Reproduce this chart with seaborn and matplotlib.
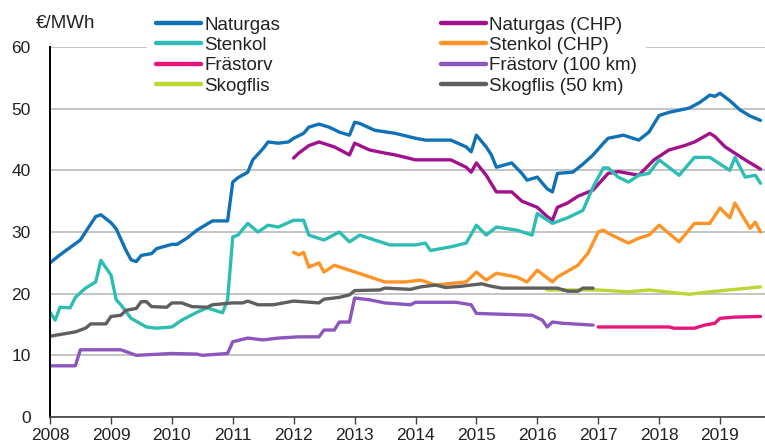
import pandas as pd
import matplotlib.pyplot as plt
import matplotlib.dates as mdates
from matplotlib.lines import Line2D
import seaborn as sns

# monthly prices, €/MWh
naturgas_dates = ["2008-01", "2008-03", "2008-05", "2008-07", "2008-08", "2008-10", "2008-11",
                  "2009-01", "2009-02", "2009-04", "2009-05", "2009-06", "2009-07", "2009-09", "2009-10",
                  "2010-01", "2010-02", "2010-04", "2010-06", "2010-07", "2010-09", "2010-11", "2010-12",
                  "2011-01", "2011-02", "2011-04", "2011-05", "2011-07", "2011-08", "2011-10", "2011-12",
                  "2012-01", "2012-03", "2012-04", "2012-06", "2012-08", "2012-10", "2012-12",
                  "2013-01", "2013-02", "2013-05", "2013-09", "2014-01", "2014-03", "2014-08", "2014-11",
                  "2014-12", "2015-01", "2015-03", "2015-04", "2015-05", "2015-08", "2015-10", "2015-11",
                  "2016-01", "2016-03", "2016-04", "2016-05", "2016-08", "2016-10", "2016-12",
                  "2017-02", "2017-03", "2017-06", "2017-09", "2017-11", "2018-01", "2018-03", "2018-07",
                  "2018-09", "2018-11", "2018-12", "2019-01", "2019-03", "2019-05", "2019-07", "2019-09"]
naturgas = [25.0, 26.3, 27.5, 28.7, 30.0, 32.5, 32.8,
            31.5, 30.5, 27.0, 25.5, 25.2, 26.2, 26.5, 27.3,
            28.0, 28.0, 29.0, 30.3, 30.8, 31.8, 31.8, 31.8,
            38.1, 38.8, 39.7, 41.7, 43.5, 44.6, 44.4, 44.6,
            45.2, 46.0, 47.0, 47.5, 47.0, 46.2, 45.7,
            47.8, 47.6, 46.5, 46.0, 45.2, 44.9, 44.9, 43.8,
            43.0, 45.7, 43.8, 42.5, 40.5, 41.2, 39.5, 38.4,
            38.9, 37.0, 36.5, 39.5, 39.7, 41.0, 42.5,
            44.4, 45.2, 45.7, 44.9, 46.2, 48.9, 49.4, 50.1,
            51.0, 52.2, 52.0, 52.5, 51.3, 49.8, 48.8, 48.1]

naturgas_chp_dates = ["2012-01", "2012-02", "2012-04", "2012-06", "2012-09", "2012-12",
                      "2013-01", "2013-04", "2013-07", "2013-09", "2014-01", "2014-08", "2014-11",
                      "2014-12", "2015-01", "2015-03", "2015-05", "2015-08", "2015-10",
                      "2016-01", "2016-03", "2016-04", "2016-05", "2016-07", "2016-09", "2016-12",
                      "2017-03", "2017-05", "2017-09", "2017-12", "2018-03", "2018-06", "2018-08",
                      "2018-11", "2018-12", "2019-02", "2019-06", "2019-09"]
naturgas_chp = [42.0, 42.8, 44.0, 44.6, 43.8, 42.5,
                44.4, 43.3, 42.8, 42.5, 41.7, 41.7, 40.5,
                39.7, 41.2, 39.2, 36.5, 36.5, 35.0,
                34.0, 32.5, 31.9, 34.0, 34.7, 35.8, 36.8,
                39.5, 39.8, 39.2, 41.7, 43.3, 44.0, 44.6,
                46.0, 45.5, 43.8, 41.7, 40.2]

stenkol_dates = ["2008-01", "2008-02", "2008-03", "2008-05", "2008-06", "2008-08", "2008-10", "2008-11",
                 "2009-01", "2009-02", "2009-03", "2009-05", "2009-08", "2009-10",
                 "2010-01", "2010-03", "2010-06", "2010-08", "2010-11", "2010-12",
                 "2011-01", "2011-02", "2011-04", "2011-06", "2011-08", "2011-10",
                 "2012-01", "2012-03", "2012-04", "2012-07", "2012-10", "2012-12",
                 "2013-02", "2013-05", "2013-08", "2014-01", "2014-03", "2014-04", "2014-08", "2014-11",
                 "2015-01", "2015-03", "2015-05", "2015-09", "2015-12",
                 "2016-01", "2016-04", "2016-07", "2016-10", "2016-12",
                 "2017-02", "2017-03", "2017-05", "2017-07", "2017-09", "2017-11",
                 "2018-01", "2018-05", "2018-08", "2018-11",
                 "2019-03", "2019-04", "2019-06", "2019-08", "2019-09"]
stenkol = [17.0, 15.7, 17.8, 17.7, 19.4, 20.9, 21.9, 25.4,
           23.0, 19.0, 18.2, 16.0, 14.6, 14.4,
           14.6, 15.7, 17.0, 17.7, 16.9, 19.0,
           29.2, 29.5, 31.4, 30.0, 31.1, 30.8,
           31.9, 31.9, 29.5, 28.7, 30.0, 28.4,
           29.5, 28.7, 27.9, 27.9, 28.2, 27.0, 27.6, 28.2,
           31.1, 29.5, 30.8, 30.3, 29.5,
           33.0, 31.4, 32.3, 33.5, 37.3,
           40.4, 40.4, 38.9, 38.1, 39.2, 39.5,
           41.7, 39.2, 42.1, 42.1,
           40.0, 42.1, 38.9, 39.2, 37.9]

stenkol_chp_dates = ["2012-01", "2012-02", "2012-03", "2012-04", "2012-06", "2012-07", "2012-09", "2012-12",
                     "2013-03", "2013-07", "2013-11", "2014-02", "2014-05", "2014-11",
                     "2015-01", "2015-03", "2015-05", "2015-09", "2015-11",
                     "2016-01", "2016-04", "2016-05", "2016-09", "2016-11",
                     "2017-01", "2017-02", "2017-03", "2017-07", "2017-09", "2017-11",
                     "2018-01", "2018-05", "2018-08", "2018-11",
                     "2019-01", "2019-03", "2019-04", "2019-06", "2019-07", "2019-08", "2019-09"]
stenkol_chp = [26.7, 26.3, 26.7, 24.3, 25.0, 23.5, 24.6, 23.8,
               23.0, 21.9, 21.9, 22.2, 21.4, 21.9,
               23.5, 22.2, 23.3, 22.7, 21.9,
               23.8, 21.9, 22.7, 24.6, 26.6,
               30.0, 30.3, 29.8, 28.2, 29.0, 29.5,
               31.1, 28.4, 31.4, 31.4,
               33.9, 32.3, 34.7, 31.9, 30.6, 31.6, 30.0]

frastorv_dates = ["2017-01", "2018-03", "2018-04", "2018-08", "2018-10", "2018-12",
                  "2019-01", "2019-04", "2019-09"]
frastorv = [14.6, 14.6, 14.4, 14.4, 14.9, 15.2, 16.0, 16.2, 16.3]

frastorv_100_dates = ["2008-01", "2008-06", "2008-07", "2009-03", "2009-04", "2009-06",
                      "2010-01", "2010-06", "2010-07", "2010-12", "2011-01", "2011-04", "2011-07", "2011-10",
                      "2012-02", "2012-06", "2012-07", "2012-09", "2012-10", "2012-12",
                      "2013-01", "2013-04", "2013-07", "2013-12", "2014-01", "2014-09", "2014-12",
                      "2015-01", "2015-12", "2016-02", "2016-03", "2016-04", "2016-06", "2016-12"]
frastorv_100 = [8.3, 8.3, 10.9, 10.9, 10.6, 10.0,
                10.3, 10.2, 10.0, 10.3, 12.2, 12.8, 12.5, 12.8,
                13.0, 13.0, 14.1, 14.1, 15.4, 15.4,
                19.3, 19.0, 18.5, 18.2, 18.6, 18.6, 18.2,
                16.8, 16.5, 15.7, 14.6, 15.4, 15.2, 14.9]

skogflis_dates = ["2016-03", "2016-12", "2017-01", "2017-07", "2017-11", "2018-07",
                  "2018-11", "2019-04", "2019-09"]
skogflis = [20.6, 20.6, 20.6, 20.3, 20.6, 19.9, 20.3, 20.7, 21.1]

skogflis_50_dates = ["2008-01", "2008-06", "2008-08", "2008-09", "2008-12",
                     "2009-01", "2009-03", "2009-04", "2009-06", "2009-07", "2009-08", "2009-09", "2009-12",
                     "2010-01", "2010-03", "2010-05", "2010-08", "2010-09",
                     "2011-01", "2011-03", "2011-04", "2011-06", "2011-09", "2011-11",
                     "2012-01", "2012-06", "2012-07", "2012-10", "2012-12",
                     "2013-01", "2013-06", "2013-07", "2013-12",
                     "2014-02", "2014-05", "2014-07", "2014-10",
                     "2015-02", "2015-04", "2015-06", "2016-05", "2016-07", "2016-09", "2016-10", "2016-12"]
skogflis_50 = [13.1, 13.8, 14.4, 15.1, 15.1,
               16.3, 16.5, 17.3, 17.6, 18.7, 18.7, 17.9, 17.8,
               18.5, 18.5, 17.9, 17.8, 18.2,
               18.5, 18.5, 18.8, 18.2, 18.2, 18.5,
               18.8, 18.5, 19.1, 19.4, 19.8,
               20.5, 20.6, 20.9, 20.7,
               21.1, 21.4, 21.0, 21.2,
               21.6, 21.2, 20.9, 20.9, 20.4, 20.4, 20.9, 20.9]

series = [
    ("Naturgas", naturgas_dates, naturgas, "#1071B6"),
    ("Stenkol", stenkol_dates, stenkol, "#2DBDB2"),
    ("Frästorv", frastorv_dates, frastorv, "#E6157B"),
    ("Skogflis", skogflis_dates, skogflis, "#BDD631"),
    ("Naturgas (CHP)", naturgas_chp_dates, naturgas_chp, "#A1118D"),
    ("Stenkol (CHP)", stenkol_chp_dates, stenkol_chp, "#FF9325"),
    ("Frästorv (100 km)", frastorv_100_dates, frastorv_100, "#8D55BE"),
    ("Skogflis (50 km)", skogflis_50_dates, skogflis_50, "#5F5F5F"),
]

frames = []
for name, d, v, c in series:
    frames.append(pd.DataFrame({"Datum": pd.to_datetime(d), "Pris": v, "Bränsle": name}))
df = pd.concat(frames, ignore_index=True)
palette = {name: c for name, d, v, c in series}
draw_order = ["Naturgas", "Naturgas (CHP)", "Stenkol", "Stenkol (CHP)",
              "Frästorv", "Frästorv (100 km)", "Skogflis", "Skogflis (50 km)"]

sns.set_theme(style="white")
plt.rcParams["font.family"] = ["Liberation Sans", "DejaVu Sans"]

fig = plt.figure(figsize=(7.65, 4.46), dpi=100)
ax = fig.add_axes([50 / 765, 29 / 446, 715 / 765, 370 / 446])

ax.yaxis.grid(True, color="#BFBFBF", linewidth=1.3)
ax.set_axisbelow(True)
sns.lineplot(data=df, x="Datum", y="Pris", hue="Bränsle", hue_order=draw_order,
             palette=palette, linewidth=2.4, errorbar=None, legend=False, ax=ax)

ax.set_ylim(0, 60)
ax.set_yticks(range(0, 61, 10))
ax.set_xlim(pd.Timestamp("2008-01-01"), pd.Timestamp("2019-09-28"))
ax.xaxis.set_major_locator(mdates.YearLocator())
ax.xaxis.set_major_formatter(mdates.DateFormatter("%Y"))
ax.set_xlabel("")
ax.set_ylabel("")
ax.tick_params(axis="x", direction="out", length=5, width=1, color="#404040",
               bottom=True, labelsize=12.5, pad=3, labelcolor="#222222")
ax.tick_params(axis="y", length=0, labelsize=12.5, pad=14, labelcolor="#222222")
for s in ["top", "right"]:
    ax.spines[s].set_visible(False)
ax.spines["left"].set_color("black")
ax.spines["left"].set_linewidth(1.4)
ax.spines["bottom"].set_color("#404040")
ax.spines["bottom"].set_linewidth(1.2)

handles = [Line2D([], [], color=c, linewidth=3.2) for name, d, v, c in series]
labels = [name for name, d, v, c in series]
leg = fig.legend(handles, labels, ncol=2, loc="upper left",
                 bbox_to_anchor=(147 / 765, 1 - 7 / 446), frameon=True,
                 facecolor="white", edgecolor="none", framealpha=1,
                 fontsize=13.5, handlelength=2.4, handletextpad=0.15,
                 columnspacing=8.6, labelspacing=0.18, borderpad=0.5,
                 borderaxespad=0)
for t in leg.get_texts():
    t.set_color("#222222")

fig.text(36 / 765, 1 - 23 / 446, "€/MWh", fontsize=13.5, va="center", ha="left", color="#222222")

fig.savefig("out.png", dpi=100)
